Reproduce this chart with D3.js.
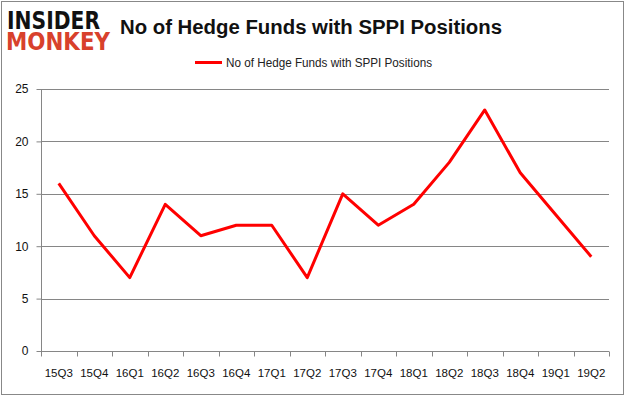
<!DOCTYPE html>
<html>
<head>
<meta charset="utf-8">
<script src="https://cdn.jsdelivr.net/npm/d3@7/dist/d3.min.js"></script>
<style>
  body { margin: 0; background: #fff; }
  svg { display: block; }
</style>
</head>
<body>
<div id="chart"></div>
<script>
const quarters = ['15Q3', '15Q4', '16Q1', '16Q2', '16Q3', '16Q4', '17Q1', '17Q2',
	'17Q3', '17Q4', '18Q1', '18Q2', '18Q3', '18Q4', '19Q1', '19Q2'];
const hedgeFunds = [16, 11, 7, 14, 11, 12, 12, 7, 15, 12, 14, 18, 23, 17, 13, 9];
const yTicks = [0, 5, 10, 15, 20, 25];
const seriesName = 'No of Hedge Funds with SPPI Positions';

const W = 626, H = 397;
const margin = { left: 41, right: 17, top: 89, bottom: 46 };

const svg = d3.select('#chart').append('svg')
	.attr('width', W)
	.attr('height', H);

// outer frame
svg.append('rect')
	.attr('x', 1.5).attr('y', 1.5)
	.attr('width', W - 4).attr('height', H - 4)
	.attr('fill', '#fff')
	.attr('stroke', '#888')
	.attr('stroke-width', 1);

// logo
const logo = svg.append('g').style('font-family', 'DejaVu Sans').style('font-weight', 'bold');
logo.append('text')
	.text('INSIDER')
	.attr('x', 7).attr('y', 29)
	.attr('textLength', 93).attr('lengthAdjust', 'spacingAndGlyphs')
	.style('font-size', '24px')
	.attr('fill', '#111');
logo.append('text')
	.text('MONKEY')
	.attr('x', 6).attr('y', 50)
	.attr('textLength', 104).attr('lengthAdjust', 'spacingAndGlyphs')
	.style('font-size', '24px')
	.attr('fill', '#d8412c');

// title
svg.append('text')
	.text(seriesName)
	.attr('x', 311).attr('y', 34)
	.attr('text-anchor', 'middle')
	.attr('textLength', 382).attr('lengthAdjust', 'spacingAndGlyphs')
	.style('font-family', 'Liberation Sans')
	.style('font-weight', 'bold')
	.style('font-size', '20px')
	.attr('fill', '#111');

// legend
svg.append('line')
	.attr('x1', 195).attr('x2', 222)
	.attr('y1', 62.5).attr('y2', 62.5)
	.attr('stroke', '#ff0000').attr('stroke-width', 3);
svg.append('text')
	.text(seriesName)
	.attr('x', 226).attr('y', 66.5)
	.style('font-family', 'Liberation Sans')
	.style('font-size', '12px')
	.attr('textLength', 206).attr('lengthAdjust', 'spacingAndGlyphs')
	.attr('fill', '#222');

const chartW = W - margin.left - margin.right;
const chartH = H - margin.top - margin.bottom;

const g = svg.append('g')
	.attr('transform', `translate(${margin.left}, ${margin.top})`);

const x = d3.scaleBand().domain(quarters).range([0, chartW]);
const y = d3.scaleLinear().domain([0, 25]).range([chartH, 0]);

// gridlines
g.append('g')
	.selectAll('line')
	.data(yTicks.filter(d => d > 0))
	.join('line')
		.attr('x1', 0).attr('x2', chartW)
		.attr('y1', d => Math.round(y(d)) + 0.5)
		.attr('y2', d => Math.round(y(d)) + 0.5)
		.attr('stroke', '#868686');

const axisY = d3.axisLeft(y).tickValues(yTicks).tickSize(5).tickPadding(8);
const yG = g.append('g').attr('transform', 'translate(0.5,0)').call(axisY);
yG.select('.domain').attr('stroke', '#868686').attr('d', `M0,${chartH}V0`);
yG.selectAll('.tick line').attr('stroke', '#868686');
yG.selectAll('.tick text')
	.style('font-family', 'Liberation Sans')
	.style('font-size', '12px')
	.attr('fill', '#111');

const axisX = d3.axisBottom(x).tickSize(0).tickPadding(17);
const xG = g.append('g').attr('transform', `translate(0,${Math.round(chartH) + 0.5})`).call(axisX);
xG.select('.domain').attr('stroke', '#868686').attr('d', `M0,0H${chartW}`);
xG.selectAll('.tick text')
	.style('font-family', 'Liberation Sans')
	.style('font-size', '11.5px')
	.attr('fill', '#111');
// category boundary ticks
xG.append('g')
	.selectAll('line')
	.data(quarters.concat(['end']))
	.join('line')
		.attr('x1', (d, i) => Math.round(i * x.step()) + 0.5)
		.attr('x2', (d, i) => Math.round(i * x.step()) + 0.5)
		.attr('y1', 0).attr('y2', 5)
		.attr('stroke', '#868686');

// series line
const line = d3.line()
	.x((d, i) => x(quarters[i]) + x.bandwidth() / 2)
	.y(d => y(d));

g.append('path')
	.datum(hedgeFunds)
	.attr('d', line)
	.attr('fill', 'none')
	.attr('stroke', '#ff0000')
	.attr('stroke-width', 3)
	.attr('stroke-linejoin', 'round');
</script>
</body>
</html>
